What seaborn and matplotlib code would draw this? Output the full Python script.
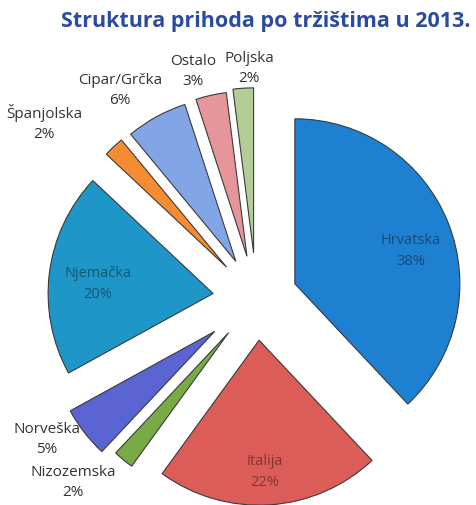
import numpy as np
import seaborn as sns
from matplotlib import pyplot as plt
from matplotlib.colors import to_rgb

sns.set_theme(style="white")
plt.rcParams['font.family'] = ['Open Sans', 'DejaVu Sans']

# data
markets = ['Hrvatska', 'Italija', 'Nizozemska', 'Norveška', 'Njemačka',
           'Španjolska', 'Cipar/Grčka', 'Ostalo', 'Poljska']
shares = [38, 22, 2, 5, 20, 2, 6, 3, 2]

colors = ['#1e80d0', '#dc5c57', '#78aa46', '#5a64d2', '#1e96c8',
          '#f58c32', '#82a5e6', '#e6969b', '#b4cd96']
explode = [0.25, 0.25, 0.265, 0.32, 0.265, 0.265, 0.26, 0.265, 0.28]
# label placement: radial distance (in radii) and angle nudge (deg)
lab_dist = [0.73, 0.80, 1.31, 1.21, 0.70, 1.41, 1.25, 1.17, 1.12]
lab_nudge = [-5.7, -1.1, -6.5, -4.9, 2.5, 8.4, 5.3, 3.7, -2.2]
inside = [True, True, False, False, True, False, False, False, False]

fig = plt.figure(figsize=(4.76, 5.05), dpi=100)
ax = fig.add_axes([0, 0, 1, 1])

R = 165
wedges, _ = ax.pie(shares, explode=[e * R for e in explode], colors=colors,
                   startangle=90, counterclock=False, center=(256.5, 206),
                   radius=R,
                   wedgeprops=dict(edgecolor='#3a3a3a', linewidth=0.8))
ax.set_xlim(0, 476)
ax.set_ylim(0, 505)
ax.set_aspect('equal')
ax.axis('off')

for i, w in enumerate(wedges):
    ang = np.deg2rad((w.theta1 + w.theta2) / 2 + lab_nudge[i])
    cx, cy = w.center
    x = cx + R * lab_dist[i] * np.cos(ang)
    y = cy + R * lab_dist[i] * np.sin(ang)
    if inside[i]:
        c = tuple(0.45 * v for v in to_rgb(colors[i]))
        ax.text(x, y, f"{markets[i]}\n{shares[i]}%", ha='center', va='center',
                fontsize=10.5, color=c, alpha=0.75, linespacing=1.5)
    else:
        ax.text(x, y, f"{markets[i]}\n{shares[i]}%", ha='center', va='center',
                fontsize=11, color='#333333', linespacing=1.45)

fig.text(266 / 476, 1 - 22 / 505, 'Struktura prihoda po tržištima u 2013.',
         ha='center', va='center', fontsize=15.5, fontweight='bold',
         color='#2b4ba0')

fig.savefig('out.png', dpi=100)
